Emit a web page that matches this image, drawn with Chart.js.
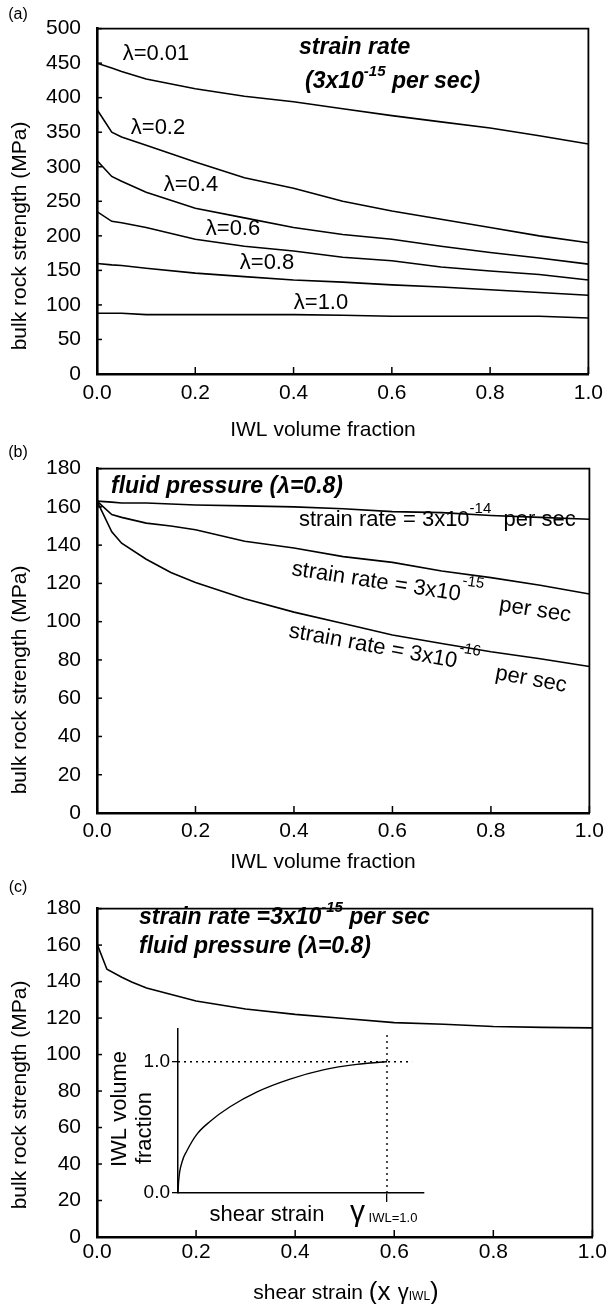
<!DOCTYPE html>
<html>
<head>
<meta charset="utf-8">
<script src="https://cdn.jsdelivr.net/npm/chart.js@4.4.0/dist/chart.umd.min.js"></script>
<style>
  body { margin: 0; background: #fff; }
  #wrap { position: relative; width: 610px; height: 1304px; overflow: hidden; }
  canvas { position: absolute; }
</style>
</head>
<body>
<div id="wrap">
  <canvas id="chartA" width="610" height="440" style="left:0;top:0"></canvas>
  <canvas id="chartB" width="610" height="440" style="left:0;top:440px"></canvas>
  <canvas id="chartC" width="610" height="424" style="left:0;top:880px"></canvas>
  <canvas id="inset" width="350" height="225" style="left:90px;top:1015px"></canvas>
</div>
<script>
const FAM = '"Liberation Sans", Arial, Helvetica, sans-serif';

// panel (a): strength vs IWL volume fraction, one curve per lambda
const fracA = [0, 0.03, 0.05, 0.1, 0.2, 0.3, 0.4, 0.5, 0.6, 0.7, 0.8, 0.9, 1.0];
const lam001 = [450, 443, 438, 427, 413, 402, 394, 384, 374, 365, 356, 345, 333];
const lam02 = [383, 350, 343, 331, 307, 284, 269, 250, 236, 224, 212, 200, 190];
const lam04 = [309, 286, 279, 263, 240, 226, 212, 202, 195, 185, 176, 168, 159];
const lam06 = [235, 221, 219, 212, 195, 185, 178, 169, 164, 155, 149, 144, 136];
const lam08 = [160, 158, 157, 153, 146, 141, 136, 133, 129, 126, 122, 118, 114];
const lam10 = [88, 88, 88, 86, 86, 86, 86, 85, 83.5, 83.5, 83.5, 83.5, 81];
const lambdaLabels = ['λ=0.01', 'λ=0.2', 'λ=0.4', 'λ=0.6', 'λ=0.8', 'λ=1.0'];
const yTicksA = [0, 50, 100, 150, 200, 250, 300, 350, 400, 450, 500];

// panel (b): lambda = 0.8, three strain rates
const fracB = [0, 0.03, 0.05, 0.1, 0.15, 0.2, 0.3, 0.4, 0.5, 0.6, 0.7, 0.8, 0.9, 1.0];
const rate14 = [163, 162.5, 162, 162, 161.5, 161, 160.5, 160, 159, 157.5, 157, 155.5, 154.5, 153.5];
const rate15 = [163, 156, 154.5, 151.5, 150, 148, 142, 138.5, 134, 131, 126.5, 123, 119, 114.5];
const rate16 = [163, 147, 141, 132.6, 125.7, 120.5, 112, 105, 99, 93, 88.6, 84.3, 80.6, 76.6];

// panel (c): strength vs shear strain
const strainC = [0, 0.02, 0.05, 0.07, 0.1, 0.15, 0.2, 0.3, 0.4, 0.5, 0.6, 0.7, 0.8, 0.9, 1.0];
const strengthC = [160.7, 146.8, 142.4, 139.8, 136.5, 132.9, 129.4, 125, 122, 119.8, 117.5, 116.6, 115.4, 114.9, 114.6];
const yTicksBC = [0, 20, 40, 60, 80, 100, 120, 140, 160, 180];
const xTicks = [0, 0.2, 0.4, 0.6, 0.8, 1.0];

// inset: IWL volume fraction vs shear strain (gamma at IWL=1.0 -> 1)
const insetStrain = [0, 0.003, 0.02, 0.042, 0.089, 0.153, 0.249, 0.376, 0.536, 0.695, 0.855, 1.0];
const insetFrac = [0, 0.09, 0.24, 0.32, 0.445, 0.545, 0.657, 0.769, 0.868, 0.938, 0.98, 1.0];
const insetTicks = [0, 1];

Chart.defaults.font.family = FAM;
Chart.defaults.color = '#000';

const pts = (xs, ys) => xs.map((x, i) => ({ x: x, y: ys[i] }));
const f = (size, style) => (style ? style + ' ' : '') + size + 'px ' + FAM;

function curve(data) {
  return { data: data, borderColor: '#000', borderWidth: 1.6, pointRadius: 0, fill: false, tension: 0 };
}

// draws text made of several runs (for superscripts / subscripts)
function drawParts(ctx, it) {
  ctx.save();
  ctx.translate(it.x, it.y);
  if (it.rot) ctx.rotate(it.rot * Math.PI / 180);
  ctx.fillStyle = '#000';
  ctx.textAlign = 'left';
  ctx.textBaseline = it.base || 'middle';
  let w = 0;
  it.parts.forEach(p => { ctx.font = p[1]; w += ctx.measureText(p[0]).width; });
  let cx = it.align === 'center' ? -w / 2 : 0;
  it.parts.forEach(p => {
    ctx.font = p[1];
    ctx.fillText(p[0], cx, p[2] || 0);
    cx += ctx.measureText(p[0]).width;
  });
  ctx.restore();
}

function textPlugin(ox, oy, items) {
  return {
    id: 'texts',
    afterDraw(chart) {
      items.forEach(it => drawParts(chart.ctx, Object.assign({}, it, { x: it.x - ox, y: it.y - oy })));
    }
  };
}

// inward tick marks plus thin top/right frame
const frame = {
  id: 'frame',
  afterDatasetsDraw(chart) {
    const { ctx, chartArea: a, scales: { x, y } } = chart;
    ctx.save();
    ctx.strokeStyle = '#000';
    ctx.lineWidth = 1.5;
    x.ticks.forEach(t => {
      const px = x.getPixelForValue(t.value);
      ctx.beginPath(); ctx.moveTo(px, a.bottom); ctx.lineTo(px, a.bottom - 7); ctx.stroke();
    });
    y.ticks.forEach(t => {
      const py = y.getPixelForValue(t.value);
      ctx.beginPath(); ctx.moveTo(a.left, py); ctx.lineTo(a.left + 5, py); ctx.stroke();
    });
    ctx.lineWidth = 1.8;
    ctx.beginPath();
    ctx.moveTo(a.left, a.top); ctx.lineTo(a.right, a.top); ctx.lineTo(a.right, a.bottom);
    ctx.stroke();
    ctx.restore();
  }
};

function mainOptions(yMax, yTicks, padTop, xHeight, xPad) {
  return {
    responsive: false,
    animation: false,
    devicePixelRatio: 1,
    layout: { padding: { top: padTop, right: 16, left: 0, bottom: 0 } },
    plugins: { legend: { display: false }, tooltip: { enabled: false } },
    scales: {
      x: {
        type: 'linear', min: 0, max: 1,
        afterBuildTicks: s => { s.ticks = xTicks.map(v => ({ value: v })); },
        afterFit: s => { s.height = xHeight; },
        grid: { display: false, drawTicks: false },
        border: { display: true, color: '#000', width: 2.6 },
        ticks: { font: { size: 21 }, padding: xPad, maxRotation: 0, callback: v => v.toFixed(1) }
      },
      y: {
        min: 0, max: yMax,
        afterBuildTicks: s => { s.ticks = yTicks.map(v => ({ value: v })); },
        afterFit: s => { s.width = 97; },
        grid: { display: false, drawTicks: false },
        border: { display: true, color: '#000', width: 2.6 },
        ticks: { font: { size: 21 }, padding: 16 }
      }
    }
  };
}

const yTitle = (y) => ({ x: 20, y: y, rot: -90, align: 'center', parts: [['bulk rock strength (MPa)', f(21)]] });

// ---- (a)
new Chart(document.getElementById('chartA'), {
  type: 'line',
  data: {
    datasets: [lam001, lam02, lam04, lam06, lam08, lam10].map(v => curve(pts(fracA, v)))
  },
  options: mainOptions(500, yTicksA, 25, 66, 7),
  plugins: [frame, textPlugin(0, 0, [
    { x: 18, y: 15, align: 'center', parts: [['(a)', f(16)]] },
    yTitle(236),
    { x: 323, y: 430, align: 'center', parts: [['IWL volume fraction', f(21)]] },
    { x: 156, y: 54, align: 'center', parts: [[lambdaLabels[0], f(22)]] },
    { x: 158, y: 128, align: 'center', parts: [[lambdaLabels[1], f(22)]] },
    { x: 191, y: 185, align: 'center', parts: [[lambdaLabels[2], f(22)]] },
    { x: 233, y: 229, align: 'center', parts: [[lambdaLabels[3], f(22)]] },
    { x: 267, y: 263, align: 'center', parts: [[lambdaLabels[4], f(22)]] },
    { x: 321, y: 303, align: 'center', parts: [[lambdaLabels[5], f(22)]] },
    { x: 299, y: 48, parts: [['strain rate', f(23, 'italic bold')]] },
    { x: 305, y: 82, parts: [['(3x10', f(23, 'italic bold')], ['-15', f(15, 'italic bold'), -10], [' per sec)', f(23, 'italic bold')]] }
  ])]
});

// ---- (b)
new Chart(document.getElementById('chartB'), {
  type: 'line',
  data: {
    datasets: [rate14, rate15, rate16].map(v => curve(pts(fracB, v)))
  },
  options: mainOptions(180, yTicksBC, 25, 67, 6),
  plugins: [frame, textPlugin(0, 440, [
    { x: 18, y: 453, align: 'center', parts: [['(b)', f(16)]] },
    yTitle(680),
    { x: 323, y: 862, align: 'center', parts: [['IWL volume fraction', f(21)]] },
    { x: 111, y: 487, parts: [['fluid pressure (λ=0.8)', f(23, 'italic bold')]] },
    { x: 299, y: 520, parts: [['strain rate = 3x10', f(22)], ['-14', f(15), -11], ['  per sec', f(22)]] },
    { x: 291, y: 575, rot: 8.7, base: 'alphabetic', parts: [['strain rate = 3x10', f(22)], ['-15', f(15), -16], ['   per sec', f(22), 4]] },
    { x: 288, y: 637, rot: 10.4, base: 'alphabetic', parts: [['strain rate = 3x10', f(22)], ['-16', f(15), -16], ['   per sec', f(22), 4]] }
  ])]
});

// ---- (c)
new Chart(document.getElementById('chartC'), {
  type: 'line',
  data: { datasets: [curve(pts(strainC, strengthC))] },
  options: mainOptions(180, yTicksBC, 12, 67, 3),
  plugins: [frame, textPlugin(0, 880, [
    { x: 18, y: 888, align: 'center', parts: [['(c)', f(16)]] },
    yTitle(1095),
    { x: 346, y: 1293, align: 'center', parts: [['shear strain ', f(21)], ['(x ', f(26)], ['γ', f(22)], ['IWL', f(12), 4], [')', f(26)]] },
    { x: 139, y: 918, parts: [['strain rate =3x10', f(23, 'italic bold')], ['-15', f(15, 'italic bold'), -10], [' per sec', f(23, 'italic bold')]] },
    { x: 139, y: 947, parts: [['fluid pressure (λ=0.8)', f(23, 'italic bold')]] }
  ])]
});

// ---- inset
new Chart(document.getElementById('inset'), {
  type: 'line',
  data: {
    datasets: [
      Object.assign(curve(pts(insetStrain, insetFrac)), { borderWidth: 1.4, cubicInterpolationMode: 'monotone' }),
      { data: [{ x: 0, y: 1 }, { x: 1.12, y: 1 }], borderColor: '#000', borderWidth: 1.4, borderDash: [2, 4], pointRadius: 0 },
      { data: [{ x: 1, y: 0 }, { x: 1, y: 1.216 }], borderColor: '#000', borderWidth: 1.4, borderDash: [2, 4], pointRadius: 0 }
    ]
  },
  options: {
    responsive: false,
    animation: false,
    devicePixelRatio: 1,
    layout: { padding: { top: 10, right: 16, left: 0, bottom: 0 } },
    plugins: { legend: { display: false }, tooltip: { enabled: false } },
    scales: {
      x: {
        type: 'linear', min: 0, max: 1.177,
        afterBuildTicks: s => { s.ticks = [{ value: 1 }]; },
        afterFit: s => { s.height = 47; },
        grid: { drawOnChartArea: false, drawTicks: true, tickLength: 9, color: '#000', lineWidth: 1.3 },
        border: { display: true, color: '#000', width: 1.5 },
        ticks: { display: false }
      },
      y: {
        min: 0, max: 1.254,
        afterBuildTicks: s => { s.ticks = insetTicks.map(v => ({ value: v })); },
        afterFit: s => { s.width = 88; },
        grid: { drawOnChartArea: false, drawTicks: true, tickLength: 6, color: '#000', lineWidth: 1.3 },
        border: { display: true, color: '#000', width: 1.5 },
        ticks: { font: { size: 19 }, padding: 2, callback: v => v.toFixed(1) }
      }
    }
  },
  plugins: [textPlugin(90, 1015, [
    { x: 120, y: 1109, rot: -90, align: 'center', parts: [['IWL volume', f(22)]] },
    { x: 145, y: 1128, rot: -90, align: 'center', parts: [['fraction', f(22)]] },
    { x: 267, y: 1215, align: 'center', parts: [['shear strain', f(22)]] },
    { x: 350, y: 1213, parts: [['γ', f(30)], [' IWL=1.0', f(13), 5]] }
  ])]
});
</script>
</body>
</html>
